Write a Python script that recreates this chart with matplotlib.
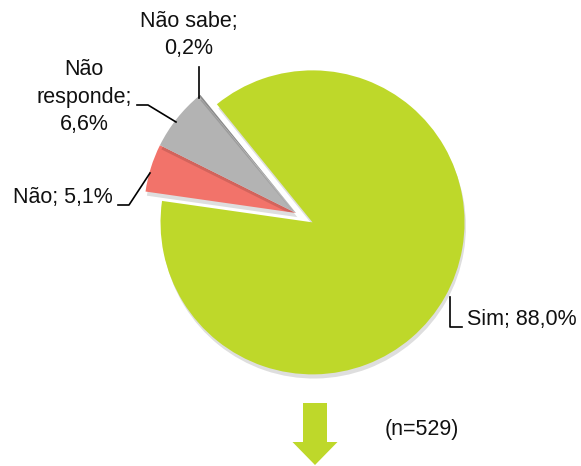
import matplotlib
matplotlib.use("Agg")
import matplotlib.pyplot as plt
import matplotlib.patheffects as pe
from matplotlib import font_manager
from matplotlib.patches import FancyArrow

# Survey answers (share of respondents, %)
categories = ["Sim", "Não", "Não responde", "Não sabe"]
values = [88.0, 5.1, 6.6, 0.2]
value_labels = ["88,0%", "5,1%", "6,6%", "0,2%"]
colors = ["#BED82A", "#F2736A", "#B3B3B3", "#8A8A8A"]
sample_note = "(n=529)"

# pick a narrow font if one is around, else Arial-metric Liberation Sans
family, fs = "Liberation Sans", 15.5
for name in ["Liberation Sans Narrow", "Arial Narrow"]:
    try:
        font_manager.findfont(name, fallback_to_default=False)
        family, fs = name, 18
        break
    except ValueError:
        pass
plt.rcParams["font.family"] = [family, "DejaVu Sans"]

W, H = 581, 466
fig = plt.figure(figsize=(W / 100, H / 100), dpi=100)
ax = fig.add_axes([0, 0, 1, 1])
ax.set_aspect("equal")
ax.axis("off")


def Y(y):
    # image row -> data y
    return H - y


radius = 152
wedges, _ = ax.pie(values, colors=colors, startangle=129, counterclock=False,
                   explode=[0.125 * radius, 0, 0, 0], center=(296, Y(213)),
                   radius=radius, wedgeprops=dict(linewidth=0))
ax.set_xlim(0, W)
ax.set_ylim(0, H)
for w in wedges:
    w.set_path_effects([pe.SimplePatchShadow(offset=(1, -3), shadow_rgbFace="#000000", alpha=0.13),
                        pe.Normal()])

txt = dict(fontsize=fs, color="#111111", linespacing=1.4)

# labels and leader lines
ax.text(189, Y(35), f"{categories[3]};\n{value_labels[3]}", ha="center", va="center", **txt)
ax.plot([199, 199], [Y(67), Y(98)], color="black", lw=1.2)

ax.text(84, Y(97), "Não\nresponde;\n" + value_labels[2], ha="center", va="center", **txt)
ax.plot([137, 148, 176], [Y(105), Y(105), Y(122)], color="black", lw=1.2)

ax.text(13, Y(198), f"{categories[1]}; {value_labels[1]}", ha="left", va="center", **txt)
ax.plot([118, 129, 150], [Y(205), Y(205), Y(173)], color="black", lw=1.2)

ax.text(467, Y(319), f"{categories[0]}; {value_labels[0]}", ha="left", va="center", **txt)
ax.plot([450, 450, 462], [Y(297), Y(327), Y(327)], color="black", lw=1.2)

ax.text(385, Y(429), sample_note, ha="left", va="center", **txt)

ax.add_patch(FancyArrow(315, Y(403), 0, -(465 - 403), width=24, head_width=45,
                        head_length=23, length_includes_head=True,
                        color=colors[0], lw=0))

fig.savefig("out.png", dpi=100)
